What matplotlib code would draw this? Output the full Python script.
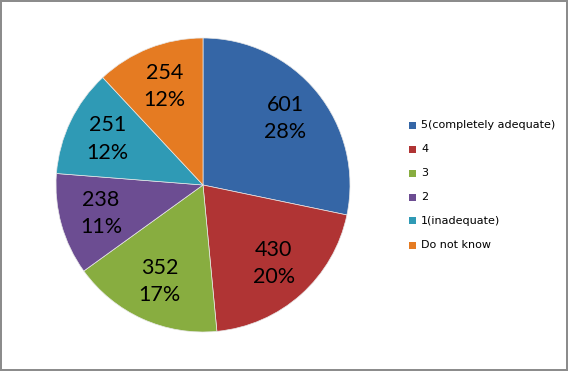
import matplotlib
matplotlib.use("Agg")
from matplotlib import pyplot as plt
from matplotlib.patches import Rectangle

# dane z wykresu
categories = ["5(completely adequate)", "4", "3", "2", "1(inadequate)", "Do not know"]
counts = [601, 430, 352, 238, 251, 254]
colors = ["#3566A6", "#B03434", "#88AD40", "#6C4D92", "#2F9AB5", "#E57B22"]

plt.rcParams['font.family'] = ['Lato', 'DejaVu Sans']

W, H = 568, 371
fig = plt.figure(figsize=(W / 100, H / 100), dpi=100)
# kolo: srodek (203,185), promien 147 px
ax = fig.add_axes([(203 - 147) / W, (H - 185 - 147) / H, 294 / W, 294 / H])

total = sum(counts)
labels = [f"{c}\n{round(100 * c / total)}%" for c in counts]

wedges, texts = ax.pie(counts, colors=colors, startangle=90, counterclock=False,
                       labels=labels, labeldistance=0.72,
                       wedgeprops=dict(edgecolor="#E8E8E8", linewidth=0.5),
                       textprops=dict(fontsize=15.5, color="black", ha="center", va="center",
                                      linespacing=1.45))
ax.set_xlim(-1, 1)
ax.set_ylim(-1, 1)
ax.set_aspect("equal")

# legenda po prawej
for i, (name, col) in enumerate(zip(categories, colors)):
    y = 1 - (125 + 24 * i) / H
    fig.patches.append(Rectangle((409 / W, y - 3.5 / H), 7 / W, 7 / H,
                                 transform=fig.transFigure, facecolor=col, edgecolor="none"))
    fig.text(421 / W, y, name, fontsize=8, va="center", ha="left", color="black",
             family="DejaVu Sans")

# ramka
fig.patch.set_edgecolor("#8C8C8C")
fig.patch.set_linewidth(1.5)

fig.savefig("out.png", dpi=100, edgecolor="#8C8C8C")
